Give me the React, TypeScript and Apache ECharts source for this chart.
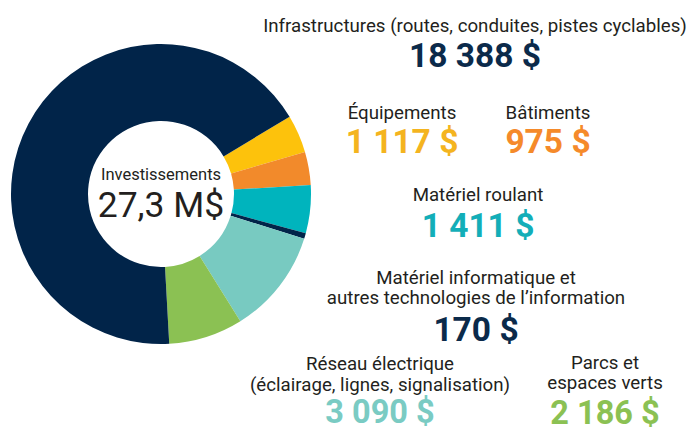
import React, { useEffect, useRef } from "react";
import * as echarts from "echarts";

const categories = [
  "Équipements",
  "Bâtiments",
  "Matériel roulant",
  "Matériel informatique et autres technologies de l’information",
  "Réseau électrique (éclairage, lignes, signalisation)",
  "Parcs et espaces verts",
  "Infrastructures (routes, conduites, pistes cyclables)",
];
const values = [1117, 975, 1411, 170, 3090, 2186, 18388];
const sliceColors = ["#FDC20C", "#F28A2B", "#00B4BD", "#012449", "#78CAC1", "#8BC153", "#012449"];
const valueLabels = ["1 117 $", "975 $", "1 411 $", "170 $", "3 090 $", "2 186 $", "18 388 $"];
const valueColors = ["#F4B41F", "#F58A2A", "#13AEB8", "#0B2A4A", "#7ACBC3", "#8BC153", "#0B2A4A"];
const labelLines = [
  ["Équipements"],
  ["Bâtiments"],
  ["Matériel roulant"],
  ["Matériel informatique et", "autres technologies de l’information"],
  ["Réseau électrique", "(éclairage, lignes, signalisation)"],
  ["Parcs et", "espaces verts"],
  ["Infrastructures (routes, conduites, pistes cyclables)"],
];
const centerTitle = "Investissements";
const centerTotal = "27,3 M$";

// layout: [centerX, first label line middle Y, value middle Y, line spacing, value font size]
const layout: [number, number, number, number, number][] = [
  [402, 112.5, 141, 20, 33.5],
  [548, 112.5, 141, 20, 33.5],
  [478, 195, 225.5, 20, 33.5],
  [476, 277.5, 329.5, 20.5, 33.5],
  [380, 364, 412, 20.5, 32.5],
  [605, 362.5, 412.5, 20.5, 32.5],
  [475, 25.5, 55, 20, 33.5],
];

const FONT = "Roboto, 'Noto Sans', sans-serif";
const LABEL_COLOR = "#231F20";

export default function App() {
  const ref = useRef<HTMLDivElement>(null);
  useEffect(() => {
    if (!ref.current) return;
    const chart = echarts.init(ref.current, null, { renderer: "svg" });
    const graphics: any[] = [];
    labelLines.forEach((lines, i) => {
      const [cx, ly, vy, sp, vf] = layout[i];
      lines.forEach((t, j) => {
        graphics.push({
          type: "text",
          x: cx,
          y: ly + j * sp,
          style: {
            text: t,
            fill: LABEL_COLOR,
            font: `400 18.7px ${FONT}`,
            lineHeight: 17,
            textAlign: "center",
            textVerticalAlign: "middle",
          },
        });
      });
      graphics.push({
        type: "text",
        x: cx,
        y: vy,
        style: {
          text: valueLabels[i],
          fill: valueColors[i],
          font: `700 ${vf}px ${FONT}`,
          lineHeight: 26,
          textAlign: "center",
          textVerticalAlign: "middle",
        },
      });
    });
    graphics.push({
      type: "text",
      x: 161,
      y: 174,
      style: {
        text: centerTitle,
        fill: LABEL_COLOR,
        font: `400 16.5px ${FONT}`,
        lineHeight: 16,
        textAlign: "center",
        textVerticalAlign: "middle",
      },
    });
    graphics.push({
      type: "text",
      x: 161,
      y: 205,
      style: {
        text: centerTotal,
        fill: LABEL_COLOR,
        font: `400 35.5px ${FONT}`,
        lineHeight: 30,
        textAlign: "center",
        textVerticalAlign: "middle",
      },
    });
    chart.setOption({
      animation: false,
      backgroundColor: "#ffffff",
      series: [
        {
          type: "pie",
          center: [161, 194],
          radius: [73, 150],
          startAngle: 31,
          clockwise: true,
          label: { show: false },
          labelLine: { show: false },
          emphasis: { disabled: true },
          itemStyle: { borderWidth: 0 },
          data: categories.map((name, i) => ({
            name,
            value: values[i],
            itemStyle: { color: sliceColors[i] },
          })),
        },
      ],
      graphic: graphics,
    });
    return () => chart.dispose();
  }, []);
  return (
    <div
      ref={ref}
      style={{ position: "fixed", left: 0, top: 0, width: 692, height: 431 }}
    />
  );
}
